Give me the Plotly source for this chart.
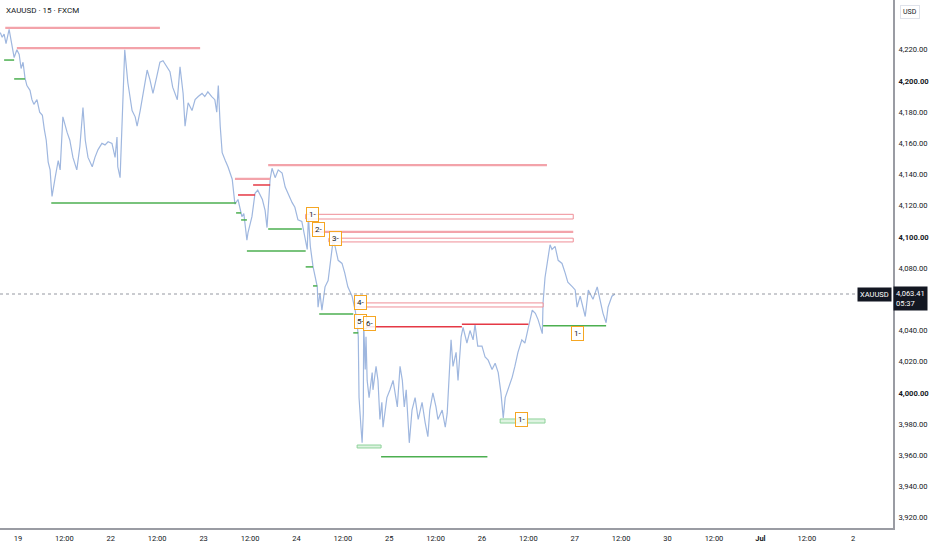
import plotly.graph_objects as go

# XAUUSD 15m chart with supply / demand levels, hand
# x = trading hours since the "19" session mark, y = price

price_t = [-4.6, -4.1, -3.6, -3.1, -2.3, -1.8, -1.3, -1.0, -0.3, 0.3, 0.8, 1.3, 1.8, 2.3, 3.1, 3.6,
           4.1, 4.9, 5.6, 6.3, 6.8, 7.3, 7.8, 8.3, 8.6, 8.8, 9.6, 10.4, 10.9, 11.6, 12.7, 13.4,
           14.2, 15.2, 16.0, 16.8, 17.4, 18.1, 19.2, 19.9, 20.7, 21.7, 22.5, 23.3, 24.3, 25.1,
           25.6, 25.8, 26.4, 27.1, 27.6, 28.4, 29.5, 30.3, 30.8, 31.6, 32.4, 33.4, 34.1, 34.9,
           35.9, 36.7, 37.5, 38.5, 39.3, 40.0, 41.2, 41.9, 42.7, 43.2, 44.0, 45.0, 45.8, 46.6,
           47.6, 48.3, 49.1, 50.1, 50.9, 51.4, 51.8, 52.3, 52.8, 53.6, 54.3, 55.4, 56.1, 56.9,
           57.9, 58.4, 59.2, 59.5, 60.5, 61.3, 62.0, 63.2, 63.9, 64.4, 65.2, 65.7, 66.5, 67.3,
           68.3, 69.1, 69.8, 70.9, 71.6, 72.4, 73.4, 73.9, 74.8, 75.1, 75.6, 76.3, 76.9, 77.4,
           77.6, 78.1, 78.6, 79.4, 80.2, 81.2, 81.5, 82.0, 82.8, 83.8, 84.5, 85.3, 86.4, 87.2,
           87.7, 88.0, 88.1, 88.2, 88.7, 89.0, 89.3, 89.4, 89.8, 90.0, 90.3, 90.8, 91.6, 91.8,
           92.6, 93.1, 93.6, 94.1, 94.4, 94.9, 95.4, 96.2, 97.0, 98.1, 98.8, 99.4, 99.9, 100.4,
           101.2, 101.9, 102.7, 103.5, 104.5, 105.3, 106.0, 106.5, 107.3, 108.1, 108.6, 109.7,
           110.5, 111.0, 111.3, 112.0, 112.5, 113.3, 113.8, 114.6, 115.1, 116.1, 116.9, 117.7,
           118.2, 118.9, 120.0, 120.8, 121.6, 122.6, 123.4, 124.2, 124.9, 125.5, 126.0, 126.7,
           127.8, 128.5, 129.3, 130.3, 131.1, 132.0, 133.0, 133.8, 134.5, 135.6, 135.8, 136.3,
           137.1, 137.6, 138.1, 138.9, 139.7, 140.7, 141.5, 142.2, 143.4, 144.1, 144.6, 145.4,
           146.7, 147.5, 148.7, 149.8, 150.5, 151.3, 152.1, 152.6, 153.6, 154.4]
price_p = [4231, 4228, 4230, 4224, 4233, 4226, 4217, 4215, 4220, 4217, 4208, 4212, 4202, 4197, 4194, 4188,
           4185, 4188, 4180, 4178, 4169, 4162, 4148, 4143, 4132, 4126, 4138, 4149, 4143, 4177, 4167, 4162,
           4151, 4143, 4158, 4183, 4162, 4151, 4145, 4151, 4156, 4160, 4159, 4161, 4160, 4151,
           4164, 4145, 4138, 4188, 4220, 4199, 4181, 4177, 4171, 4181, 4192, 4207, 4201, 4192,
           4203, 4212, 4213, 4209, 4206, 4196, 4188, 4209, 4192, 4171, 4186, 4181, 4188, 4190,
           4192, 4190, 4193, 4190, 4188, 4180, 4197, 4171, 4154, 4149, 4145, 4137, 4121, 4124,
           4113, 4115, 4098, 4103, 4113, 4128, 4130, 4124, 4117, 4106, 4137, 4144, 4138, 4143,
           4141, 4132, 4128, 4122, 4119, 4111, 4110, 4103, 4092, 4113, 4094, 4081, 4074, 4068,
           4055, 4064, 4053, 4068, 4072, 4092, 4098, 4094, 4085, 4083, 4077, 4068, 4062, 4053,
           4045, 4036, 4019, 3997, 3978, 3968, 3987, 4045, 4015, 4036, 4008, 3997, 4013, 4002,
           4017, 4008, 3983, 3994, 3978, 3987, 3997, 4002, 4008, 3991, 4017, 4008, 3991, 4002,
           3968, 3989, 3997, 3983, 3994, 3981, 3972, 3989, 4000, 3991, 3983, 3989,
           3978, 3987, 4002, 4034, 4017, 4026, 4008, 4036, 4042, 4032, 4040, 4034,
           4044, 4030, 4030, 4023, 4021, 4015, 4019, 4013, 4000, 3984, 3997, 4002,
           4010, 4017, 4026, 4034, 4032, 4042, 4053, 4051, 4047, 4038, 4058, 4074,
           4088, 4095, 4092, 4094, 4085, 4083, 4077, 4071, 4068, 4066, 4055, 4062,
           4049, 4066, 4060, 4068, 4060, 4051, 4045, 4055, 4062, 4063.41]
last_price = 4063.41

# supply levels (light pink, thick)
pink_price = [4234.0, 4221.1, 4146.1, 4137.2, 4103.2]
pink_from = [-3.3, -0.3, 64.7, 56.1, 76.1]
pink_to = [36.7, 47.1, 136.8, 65.2, 143.6]

# supply levels (red, thin)
red_price = [4133.3, 4126.9, 4042.5, 4044.0]
red_from = [60.8, 56.9, 89.3, 114.8]
red_to = [65.2, 61.3, 114.8, 132.0]

# supply zones drawn as thin boxes
rbox_low = [4111.5, 4096.8, 4055.1]
rbox_high = [4114.5, 4099.2, 4057.7]
rbox_from = [74.4, 80.4, 87.2]
rbox_to = [143.6, 143.6, 135.8]

# demand levels (green)
green_price = [4213.4, 4201.3, 4121.8, 4115.4, 4110.9, 4091.0, 4105.1, 4080.8, 4068.6,
               4050.6, 4038.5, 3959.1, 4043.1]
green_from = [-3.6, -1.0, 8.6, 56.4, 57.7, 59.2, 64.7, 74.4, 76.3, 77.9, 86.7, 93.9, 135.8]
green_to = [-1.0, 1.8, 56.4, 57.7, 59.2, 74.4, 73.4, 76.3, 77.4, 86.7, 88.0, 121.4, 152.1]

# demand zones drawn as thin boxes
gbox_low = [3964.7, 3980.7]
gbox_high = [3966.6, 3983.3]
gbox_from = [87.7, 124.7]
gbox_to = [93.9, 136.3]

# numbered markers
tag_text = ["1-", "2-", "3-", "4-", "5-", "6-", "1-", "1-"]
tag_t = [76.1, 77.6, 82.2, 88.5, 88.7, 90.8, 130.1, 144.6]
tag_p = [4114.1, 4104.5, 4098.7, 4057.7, 4045.5, 4044.2, 3982.7, 4037.8]

x_tick_hours = [0, 12, 24, 36, 48, 60, 72, 84, 96, 108, 120, 132, 144, 156, 168, 180, 192, 204, 216]
x_tick_text = ["19", "12:00", "22", "12:00", "23", "12:00", "24", "12:00", "25", "12:00",
               "26", "12:00", "27", "12:00", "30", "12:00", "<b>Jul</b>", "12:00", "2"]
y_tick_vals = [4220, 4200, 4180, 4160, 4140, 4120, 4100, 4080, 4040, 4020, 4000, 3980, 3960, 3940, 3920]
y_bold = [4200, 4100, 4000]

FONT = "Roboto, Liberation Sans, sans-serif"
INK = "#131722"

fig = go.Figure()
fig.add_trace(go.Scatter(
    x=price_t, y=price_p, mode="lines",
    line=dict(color="#9fb7df", width=1.2),
    hoverinfo="skip", showlegend=False,
))

shapes = []
for p, a, b in zip(pink_price, pink_from, pink_to):
    shapes.append(dict(type="line", xref="x", yref="y", x0=a, x1=b, y0=p, y1=p,
                       line=dict(color="#f3a3aa", width=2.2)))
for p, a, b in zip(red_price, red_from, red_to):
    shapes.append(dict(type="line", xref="x", yref="y", x0=a, x1=b, y0=p, y1=p,
                       line=dict(color="#e53945", width=1.5)))
for lo, hi, a, b in zip(rbox_low, rbox_high, rbox_from, rbox_to):
    shapes.append(dict(type="rect", xref="x", yref="y", x0=a, x1=b, y0=lo, y1=hi,
                       line=dict(color="#ef8f97", width=1), fillcolor="rgba(255,255,255,0.9)"))
for p, a, b in zip(green_price, green_from, green_to):
    shapes.append(dict(type="line", xref="x", yref="y", x0=a, x1=b, y0=p, y1=p,
                       line=dict(color="#4caf50", width=1.5)))
for lo, hi, a, b in zip(gbox_low, gbox_high, gbox_from, gbox_to):
    shapes.append(dict(type="rect", xref="x", yref="y", x0=a, x1=b, y0=lo, y1=hi,
                       line=dict(color="#8ed29a", width=1), fillcolor="rgba(200,235,205,0.6)"))
# last price dotted line
shapes.append(dict(type="line", xref="paper", yref="y", x0=0, x1=1, y0=last_price, y1=last_price,
                   line=dict(color="#9598a1", width=1, dash="dot")))

annotations = []
for txt, t, p in zip(tag_text, tag_t, tag_p):
    annotations.append(dict(x=t, y=p, xref="x", yref="y", text=txt, showarrow=False,
                            font=dict(family=FONT, size=8, color=INK),
                            bordercolor="#f5a623", borderwidth=1, borderpad=2,
                            bgcolor="rgba(255,255,255,0.85)"))

annotations += [
    dict(x=0.004, y=0.992, xref="paper", yref="paper", xanchor="left", yanchor="top",
         text="XAUUSD · 15 · FXCM", showarrow=False, font=dict(family=FONT, size=8, color=INK)),
    dict(x=1.008, y=0.99, xref="paper", yref="paper", xanchor="left", yanchor="top",
         text="USD", showarrow=False, font=dict(family=FONT, size=7, color=INK),
         bordercolor="#e0e3eb", borderwidth=1, borderpad=2),
    dict(x=1, y=last_price, xref="paper", yref="y", xanchor="left", yanchor="top", yshift=8,
         text="4,063.41<br>05:37", align="left", showarrow=False,
         font=dict(family=FONT, size=7.5, color="white"), bgcolor=INK, borderpad=2),
    dict(x=1, y=last_price, xref="paper", yref="y", xanchor="right", yanchor="middle", xshift=-1,
         text="XAUUSD", showarrow=False,
         font=dict(family=FONT, size=7.5, color="white"), bgcolor=INK, borderpad=2),
]

y_tick_text = []
for v in y_tick_vals:
    s = f"{v:,.2f}"
    y_tick_text.append(f"<b>{s}</b>" if v in y_bold else s)

fig.update_layout(
    width=932, height=550,
    margin=dict(l=0, r=39, t=0, b=22),
    plot_bgcolor="white", paper_bgcolor="white",
    shapes=shapes, annotations=annotations,
    font=dict(family=FONT, size=8, color=INK),
    xaxis=dict(range=[-4.66, 226.3], tickvals=x_tick_hours, ticktext=x_tick_text,
               showgrid=False, zeroline=False, showline=True, linecolor="#9a9ca3", linewidth=2,
               ticks="", ticklabelstandoff=2, tickfont=dict(size=7.5, color=INK)),
    yaxis=dict(range=[3913.4, 4251.9], side="right", tickvals=y_tick_vals, ticktext=y_tick_text,
               showgrid=False, zeroline=False, showline=True, linecolor="#9a9ca3", linewidth=2,
               ticks="", ticklabelstandoff=2, tickfont=dict(size=7.6, color=INK)),
)

# drop the default page margin so the 932x550 figure sits at the window corner
fig.write_html("out.html", config={"displayModeBar": False},
               post_script="document.body.style.margin='0px';")
